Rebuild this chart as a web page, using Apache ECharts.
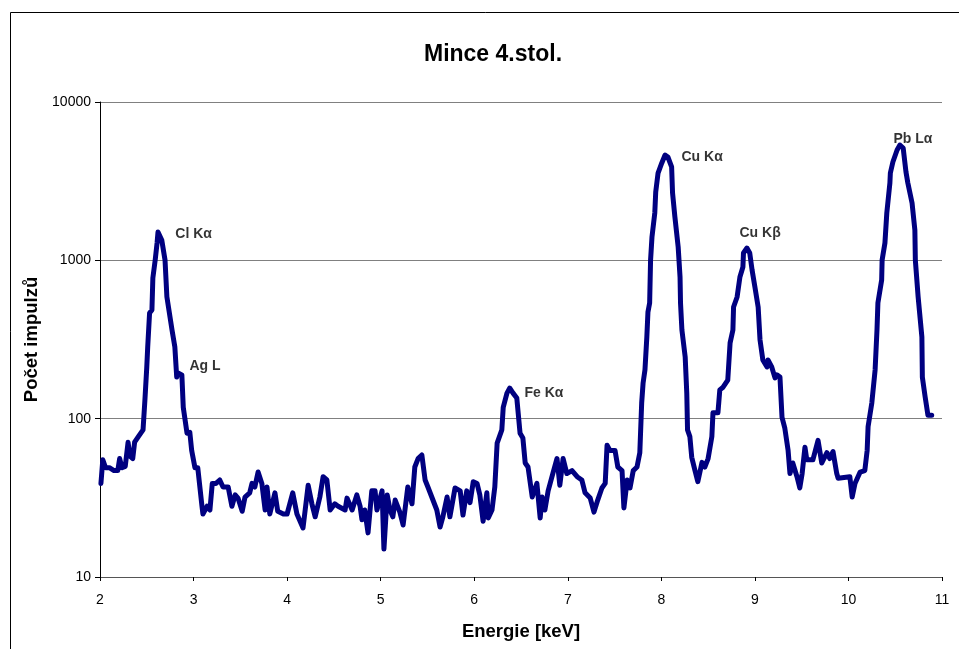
<!DOCTYPE html>
<html>
<head>
<meta charset="utf-8">
<script src="https://cdn.jsdelivr.net/npm/echarts@6/dist/echarts.min.js"></script>
<style>html,body{margin:0;padding:0;background:#fff;}#c{width:959px;height:649px;}</style>
</head>
<body>
<div id="c"></div>
<script>
var energy = [2.01,2.03,2.06,2.10,2.15,2.19,2.21,2.235,2.27,2.30,2.32,2.35,2.37,2.41,2.46,2.48,2.50,2.51,2.53,2.555,2.565,2.59,2.61,2.62,2.66,2.695,2.715,2.77,2.80,2.82,2.835,2.875,2.89,2.93,2.96,2.98,3.015,3.045,3.09,3.10,3.145,3.175,3.20,3.24,3.28,3.315,3.37,3.41,3.445,3.475,3.52,3.55,3.60,3.625,3.655,3.69,3.73,3.765,3.785,3.815,3.87,3.90,3.96,4.00,4.06,4.105,4.17,4.225,4.265,4.30,4.35,4.385,4.425,4.46,4.51,4.545,4.62,4.64,4.695,4.745,4.78,4.80,4.83,4.865,4.905,4.94,4.96,5.015,5.035,5.07,5.10,5.13,5.155,5.205,5.24,5.29,5.335,5.365,5.40,5.44,5.475,5.505,5.60,5.635,5.665,5.71,5.74,5.795,5.85,5.88,5.92,5.955,5.99,6.03,6.06,6.095,6.135,6.15,6.19,6.22,6.245,6.295,6.31,6.35,6.38,6.415,6.455,6.49,6.52,6.545,6.575,6.62,6.67,6.705,6.725,6.755,6.79,6.84,6.885,6.915,6.95,6.99,7.045,7.10,7.15,7.185,7.24,7.28,7.32,7.365,7.40,7.42,7.45,7.505,7.535,7.58,7.60,7.635,7.665,7.70,7.74,7.77,7.79,7.805,7.825,7.845,7.857,7.875,7.885,7.90,7.93,7.94,7.965,8.005,8.04,8.07,8.11,8.12,8.145,8.18,8.20,8.205,8.22,8.255,8.272,8.28,8.305,8.325,8.36,8.39,8.435,8.465,8.50,8.54,8.552,8.605,8.625,8.66,8.71,8.735,8.765,8.772,8.81,8.84,8.872,8.878,8.915,8.945,8.97,9.00,9.035,9.055,9.085,9.13,9.14,9.18,9.215,9.235,9.268,9.29,9.32,9.355,9.375,9.405,9.45,9.48,9.505,9.535,9.555,9.62,9.675,9.715,9.77,9.80,9.835,9.875,9.89,10.015,10.04,10.07,10.125,10.175,10.20,10.21,10.25,10.285,10.305,10.315,10.355,10.36,10.39,10.41,10.443,10.448,10.475,10.52,10.55,10.585,10.615,10.635,10.68,10.71,10.715,10.745,10.785,10.79,10.82,10.85,10.89];
var counts = [39,55,49,49,47,47,56,49,50,71,58,56,71,77,85,131,212,284,465,486,774,1005,1287,1510,1344,1005,587,363,284,183,194,189,118,81,82,63,49,49,28,25,28,26.5,39,39,41,37,37,28,33,31.5,26,32,34,39,37,46,39,26.5,37,25,34,26,25,25,34,25,20.4,38,29,24,32,43,41,26.5,29,28,26.5,31.5,26.5,33,28,23,26.5,19,35,35,26.5,35,15,33,26.5,24,30.6,25.7,21.3,37,29,49.5,56,59,41,37,26.5,20.7,24,32,24,36.5,35,24.6,35,29.5,40,39,33,22.5,34,23.6,26.5,37,70,85,118,145,156,145,135,81,75.5,52.5,49.5,32,39,23.6,32,26.5,35,45,56,38,56,45,47,43,41,34,31.5,25.7,30.6,36.5,39,68,63,63,49.5,47,27.3,41,36.5,47,49.5,61,126,168,203,328,472,538,1005,1404,1991,2701,3561,4119,4627,4494,3886,2663,1878,1214,785,538,363,245,145,85,77,57,47,40,53,49.5,56,77,109,109,152,158,175,301,363,507,587,785,908,1113,1196,1113,869,679,507,314,235,212,235,212,181,189,183,102,87,63,45,52.5,43,36.5,45,66,55,55,73,52.5,61,56,62,45,42,43,32,39,46,47,63,89,126,203,363,538,751,1005,1287,1991,3079,3561,4180,4976,5350,5123,3614,3079,2302,1554,1005,587,328,183,137,105,105];
var peakNames = ['Cl Kα','Ag L','Fe Kα','Cu Kα','Cu Kβ','Pb Lα'];
var peakEnergy = [2.80,2.951,6.532,8.21,8.83,10.476];
var peakCounts = [1470,215,145,4494,1490,5840];
var xTicks = [2,3,4,5,6,7,8,9,10,11];
var yTicks = [10,100,1000,10000];

var FONT = '"Liberation Sans", Arial, Helvetica, sans-serif';
var lineData = energy.map(function(e,i){return [e, counts[i]];});
var labelData = peakNames.map(function(n,i){return {value:[peakEnergy[i], peakCounts[i]], name:n};});

var chart = echarts.init(document.getElementById('c'), null, {renderer:'canvas'});
chart.setOption({
  animation:false,
  backgroundColor:'#ffffff',
  title:{
    text:'Mince 4.stol.',
    left:488, top:38, textAlign:'center',
    textStyle:{fontFamily:FONT, fontSize:23, fontWeight:'bold', color:'#000'}
  },
  graphic:[{
    type:'rect', left:8, top:10, silent:true,
    shape:{x:0,y:0,width:1000,height:700},
    style:{fill:'none', stroke:'#000', lineWidth:1}
  }],
  grid:{left:100, right:17, top:102, bottom:72, containLabel:false},
  xAxis:{
    type:'value', min:xTicks[0], max:xTicks[xTicks.length-1], interval:1,
    name:'Energie [keV]', nameLocation:'middle', nameGap:45,
    nameTextStyle:{fontFamily:FONT, fontSize:18.5, fontWeight:'bold', color:'#000'},
    axisLine:{show:true, onZero:false, lineStyle:{color:'#555', width:1}},
    axisTick:{show:true, length:4, lineStyle:{color:'#000'}},
    axisLabel:{margin:16, fontFamily:FONT, fontSize:14, color:'#000'},
    splitLine:{show:false}
  },
  yAxis:{
    type:'log', logBase:10, min:yTicks[0], max:yTicks[yTicks.length-1],
    name:'Počet impulzů', nameLocation:'middle', nameGap:59, nameRotate:90,
    nameTextStyle:{fontFamily:FONT, fontSize:18.5, fontWeight:'bold', color:'#000'},
    axisLine:{show:true, lineStyle:{color:'#000', width:1}},
    axisTick:{show:true, length:5, lineStyle:{color:'#000'}},
    axisLabel:{margin:9, fontFamily:FONT, fontSize:14, color:'#000',
      formatter:function(v){return String(Math.round(v));}},
    splitLine:{show:true, lineStyle:{color:'#808080', width:1}},
    minorTick:{show:false}
  },
  series:[{
    type:'line', data:lineData, showSymbol:false, symbol:'none', smooth:false,
    lineStyle:{color:'#000080', width:5, cap:'round', join:'round'},
    z:3
  },{
    type:'scatter', data:labelData, symbolSize:1, itemStyle:{color:'rgba(0,0,0,0)'},
    label:{show:true, formatter:'{b}', position:'right', distance:0,
      fontFamily:FONT, fontSize:14, fontWeight:'bold', color:'#000'},
    z:4, silent:true
  }]
});
</script>
</body>
</html>
